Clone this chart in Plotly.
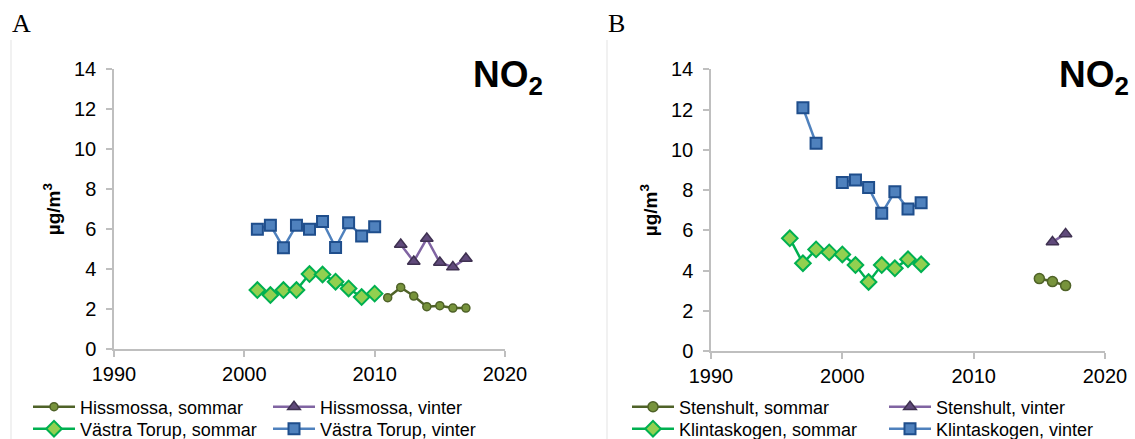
import plotly.graph_objects as go

W, H = 1135, 439

# ---------------- data ----------------
# Panel A
hiss_s_years = [2011, 2012, 2013, 2014, 2015, 2016, 2017]
hiss_s_vals = [2.57, 3.08, 2.65, 2.12, 2.17, 2.05, 2.05]
hiss_v_years = [2012, 2013, 2014, 2015, 2016, 2017]
hiss_v_vals = [5.23, 4.38, 5.53, 4.33, 4.10, 4.53]
vt_s_years = [2001, 2002, 2003, 2004, 2005, 2006, 2007, 2008, 2009, 2010]
vt_s_vals = [2.95, 2.70, 2.95, 2.95, 3.75, 3.73, 3.37, 3.03, 2.60, 2.77]
vt_v_years = [2001, 2002, 2003, 2004, 2005, 2006, 2007, 2008, 2009, 2010]
vt_v_vals = [6.00, 6.20, 5.07, 6.20, 6.00, 6.38, 5.08, 6.32, 5.65, 6.12]

# Panel B
sten_s_years = [2015, 2016, 2017]
sten_s_vals = [3.60, 3.45, 3.25]
sten_v_years = [2016, 2017]
sten_v_vals = [5.42, 5.82]
klint_s_years = [1996, 1997, 1998, 1999, 2000, 2001, 2002, 2003, 2004, 2005, 2006]
klint_s_vals = [5.60, 4.36, 5.05, 4.90, 4.80, 4.27, 3.43, 4.27, 4.11, 4.56, 4.31]
klint_v_years = [1997, 1998, 1999, 2000, 2001, 2002, 2003, 2004, 2005, 2006]
klint_v_vals = [12.09, 10.32, None, 8.37, 8.50, 8.12, 6.84, 7.92, 7.06, 7.37]

x_ticks = [1990, 2000, 2010, 2020]
y_ticks = [0, 2, 4, 6, 8, 10, 12, 14]

# ---------------- styles ----------------
FONT = "Liberation Sans, Arial, sans-serif"
OLIVE_LINE, OLIVE_FILL = "#4f6228", "#77933c"
PURP_LINE, PURP_FILL, PURP_EDGE = "#8064a2", "#604a7b", "#3f3151"
GREEN_LINE, GREEN_FILL = "#00b050", "#92d050"
BLUE_LINE, BLUE_FILL, BLUE_EDGE = "#4f81bd", "#4f81bd", "#1f4e8c"

fig = go.Figure()


def add(x, y, name, xa, ya, lg, line_col, fill, edge, sym, size, ew=1.5):
    fig.add_trace(go.Scatter(
        x=x, y=y, name=name, mode="lines+markers",
        xaxis=xa, yaxis=ya, legend=lg, cliponaxis=False, showlegend=True,
        line=dict(color=line_col, width=2.5),
        marker=dict(symbol=sym, size=size, color=fill,
                    line=dict(color=edge, width=ew)),
    ))


# Panel A
add(hiss_s_years, hiss_s_vals, "Hissmossa, sommar", "x", "y", "legend",
    OLIVE_LINE, OLIVE_FILL, OLIVE_LINE, "circle", 8)
add(hiss_v_years, hiss_v_vals, "Hissmossa, vinter", "x", "y", "legend2",
    PURP_LINE, PURP_FILL, PURP_EDGE, "triangle-up", 11)
add(vt_s_years, vt_s_vals, "Västra Torup, sommar", "x", "y", "legend3",
    GREEN_LINE, GREEN_FILL, GREEN_LINE, "diamond", 12, 2)
add(vt_v_years, vt_v_vals, "Västra Torup, vinter", "x", "y", "legend4",
    BLUE_LINE, BLUE_FILL, BLUE_EDGE, "square", 11, 2)

# Panel B
add(sten_s_years, sten_s_vals, "Stenshult, sommar", "x2", "y2", "legend5",
    OLIVE_LINE, OLIVE_FILL, OLIVE_LINE, "circle", 10)
add(sten_v_years, sten_v_vals, "Stenshult, vinter", "x2", "y2", "legend6",
    PURP_LINE, PURP_FILL, PURP_EDGE, "triangle-up", 11)
add(klint_s_years, klint_s_vals, "Klintaskogen, sommar", "x2", "y2", "legend7",
    GREEN_LINE, GREEN_FILL, GREEN_LINE, "diamond", 12, 2)
add(klint_v_years, klint_v_vals, "Klintaskogen, vinter", "x2", "y2", "legend8",
    BLUE_LINE, BLUE_FILL, BLUE_EDGE, "square", 11, 2)


def xaxis(domain, anchor):
    return dict(domain=domain, anchor=anchor, range=[1990, 2020],
                tickvals=x_ticks, ticks="outside", ticklen=6, tickwidth=1.5,
                tickcolor="#bfbfbf", showline=True, linecolor="#bfbfbf",
                linewidth=1.5, showgrid=False, zeroline=False,
                tickfont=dict(family=FONT, size=20, color="#000"))


def yaxis(domain, anchor):
    return dict(domain=domain, anchor=anchor, range=[0, 14],
                tickvals=y_ticks, ticks="outside", ticklen=6, tickwidth=1.5,
                tickcolor="#bfbfbf", showline=True, linecolor="#bfbfbf",
                linewidth=1.5, showgrid=False, zeroline=False,
                ticklabelstandoff=6,
                tickfont=dict(family=FONT, size=20, color="#000"),
                title=dict(text="<b>µg/m<sup>3</sup></b>", standoff=8,
                           font=dict(family=FONT, size=19, color="#000")))


def px_x(p):
    return p / W


def px_y(p):
    return (H - p) / H


layout = dict(
    width=W, height=H, showlegend=True,
    margin=dict(l=0, r=0, t=0, b=0, autoexpand=False),
    paper_bgcolor="white", plot_bgcolor="white",
    xaxis=xaxis([px_x(114), px_x(505)], "y"),
    yaxis=yaxis([px_y(349), px_y(69.3)], "x"),
    xaxis2=xaxis([px_x(711), px_x(1105)], "y2"),
    yaxis2=yaxis([px_y(351), px_y(69.3)], "x2"),
)

legend_pos = {
    "legend": (28, 407), "legend2": (268, 407),
    "legend3": (28, 429), "legend4": (268, 429),
    "legend5": (627, 407), "legend6": (884, 407),
    "legend7": (627, 429), "legend8": (884, 429),
}
for key, (lx, ly) in legend_pos.items():
    layout[key] = dict(x=px_x(lx), y=px_y(ly), xanchor="left", yanchor="middle",
                       orientation="v", itemwidth=42, itemsizing="trace",
                       bgcolor="rgba(0,0,0,0)", borderwidth=0, visible=True,
                       font=dict(family=FONT, size=18, color="#000"))

fig.update_layout(**layout)

# panel labels and NO2 titles
for txt, x in [("A", 10), ("B", 606)]:
    fig.add_annotation(text=txt, xref="paper", yref="paper", x=px_x(x), y=px_y(24),
                       xanchor="left", yanchor="middle", showarrow=False,
                       font=dict(family="Liberation Serif, Times New Roman, serif",
                                 size=26, color="#000"))
for x in [471, 1057]:
    fig.add_annotation(text="<b>NO<sub>2</sub></b>", xref="paper", yref="paper",
                       x=px_x(x), y=px_y(77), xanchor="left", yanchor="middle",
                       showarrow=False,
                       font=dict(family=FONT, size=37, color="#000"))

# faint chart-area frame edges
for x in [11, 607]:
    fig.add_shape(type="line", xref="paper", yref="paper",
                  x0=px_x(x), x1=px_x(x), y0=0, y1=px_y(40),
                  line=dict(color="#e3e3e3", width=1))

fig.write_html("out.html")
